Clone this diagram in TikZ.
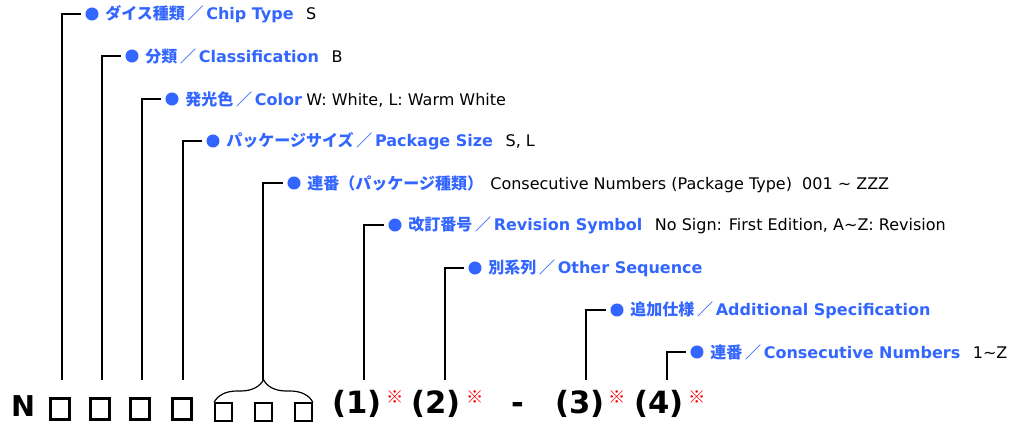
\documentclass[tikz,border=0pt]{standalone}
\usepackage{fontspec}
\setmainfont{DejaVu Sans}
\newfontfamily\jpfont{Noto Sans CJK JP}
\usetikzlibrary{positioning,decorations.pathreplacing}
\definecolor{lblue}{HTML}{3366FF}

\begin{document}
\begin{tikzpicture}[x=0.75pt, y=-0.75pt,
  dot/.style = {circle, fill=lblue, minimum size=#1, inner sep=0pt, outer sep=3pt}, dot/.default = 9.8pt,
  lead/.style = {line width=1.5pt},
  lbl/.style = {inner sep=0pt, text=lblue, font=\fontsize{12}{14}\selectfont\bfseries},
  val/.style = {inner sep=0pt, font=\fontsize{12}{14}\selectfont},
  big/.style = {inner sep=0pt, font=\fontsize{23}{26}\selectfont\bfseries},
  bigbox/.style = {draw, line width=2.6pt, minimum width=14.5pt, minimum height=15.5pt, inner sep=0pt},
  smallbox/.style = {draw, line width=1.5pt, minimum width=12.5pt, minimum height=13pt, inner sep=0pt},
  note/.style = {inner sep=0pt, text=red, font=\jpfont\fontsize{13}{14}\selectfont}]

\useasboundingbox (0,0) rectangle (1010,423);

% Part number
\node[big, font=\fontsize{21.5}{24}\selectfont\bfseries] (n0) at (23,406) {N};
\node[bigbox] (b1) at (60,409) {};
\node[bigbox] (b2) at (100,409) {};
\node[bigbox] (b3) at (140,409) {};
\node[bigbox] (b4) at (182,409) {};
\node[smallbox] (s1) at (223.5,412) {};
\node[smallbox] (s2) at (263.5,412) {};
\node[smallbox] (s3) at (303.5,412) {};
\node[big] (c1) at (357,404) {(1)};
\node[note] (m1) at (395,397) {※};
\node[big] (c2) at (436,404) {(2)};
\node[note] (m2) at (475,397) {※};
\node[big] (dash) at (518,408) {-};
\node[big] (c3) at (580,404) {(3)};
\node[note] (m3) at (617,397) {※};
\node[big] (c4) at (659,404) {(4)};
\node[note] (m4) at (697,397) {※};

% Brace over the three small boxes
\draw[line width=0.9pt, decorate, decoration={brace, amplitude=17pt}] (s1.north west) -- (s3.north east);

% Leader ends
\coordinate (p1) at (62,380);
\coordinate (p2) at (102,380);
\coordinate (p3) at (142,380);
\coordinate (p4) at (183,380);
\coordinate (p5) at (263,380);
\coordinate (p6) at (364,380);
\coordinate (p7) at (445,380);
\coordinate (p8) at (586,380);
\coordinate (p9) at (667,380);

% Dots and labels
\node[dot] (d1) at (92,14) {};
\node[lbl, right=2pt of d1] (l1) {{\jpfont ダイス種類\,／\,}Chip Type};
\node[val, base right=9pt of l1] (v1) {S};

\node[dot] (d2) at (132,56) {};
\node[lbl, right=2pt of d2] (l2) {{\jpfont 分類\,／\,}Classification};
\node[val, base right=9pt of l2] (v2) {B};

\node[dot] (d3) at (172,99) {};
\node[lbl, right=2pt of d3] (l3) {{\jpfont 発光色\,／\,}Color};
\node[val, base right=3pt of l3] (v3) {W: White, L: Warm White};

\node[dot] (d4) at (213,141) {};
\node[lbl, right=2pt of d4] (l4) {{\jpfont パッケージサイズ\,／\,}Package Size};
\node[val, base right=9pt of l4] (v4) {S, L};

\node[dot] (d5) at (294,183) {};
\node[lbl, right=2pt of d5] (l5) {{\jpfont 連番（パッケージ種類）}};
\node[val, base right=5pt of l5] (v5) {Consecutive Numbers (Package Type)\ \ 001 \textasciitilde{} ZZZ};

\node[dot] (d6) at (395,225) {};
\node[lbl, right=2pt of d6] (l6) {{\jpfont 改訂番号\,／\,}Revision Symbol};
\node[val, base right=9pt of l6] (v6) {No Sign: First Edition, A\textasciitilde Z: Revision};

\node[dot] (d7) at (475,268) {};
\node[lbl, right=2pt of d7] (l7) {{\jpfont 別系列\,／\,}Other Sequence};

\node[dot] (d8) at (617,310) {};
\node[lbl, right=2pt of d8] (l8) {{\jpfont 追加仕様\,／\,}Additional Specification};

\node[dot] (d9) at (697,352) {};
\node[lbl, right=2pt of d9] (l9) {{\jpfont 連番\,／\,}Consecutive Numbers};
\node[val, base right=9pt of l9] (v9) {1\textasciitilde Z};

% Leaders
\draw[lead] (p1) |- (d1);
\draw[lead] (p2) |- (d2);
\draw[lead] (p3) |- (d3);
\draw[lead] (p4) |- (d4);
\draw[lead] (p5) |- (d5);
\draw[lead] (p6) |- (d6);
\draw[lead] (p7) |- (d7);
\draw[lead] (p8) |- (d8);
\draw[lead] (p9) |- (d9);

\end{tikzpicture}
\end{document}
